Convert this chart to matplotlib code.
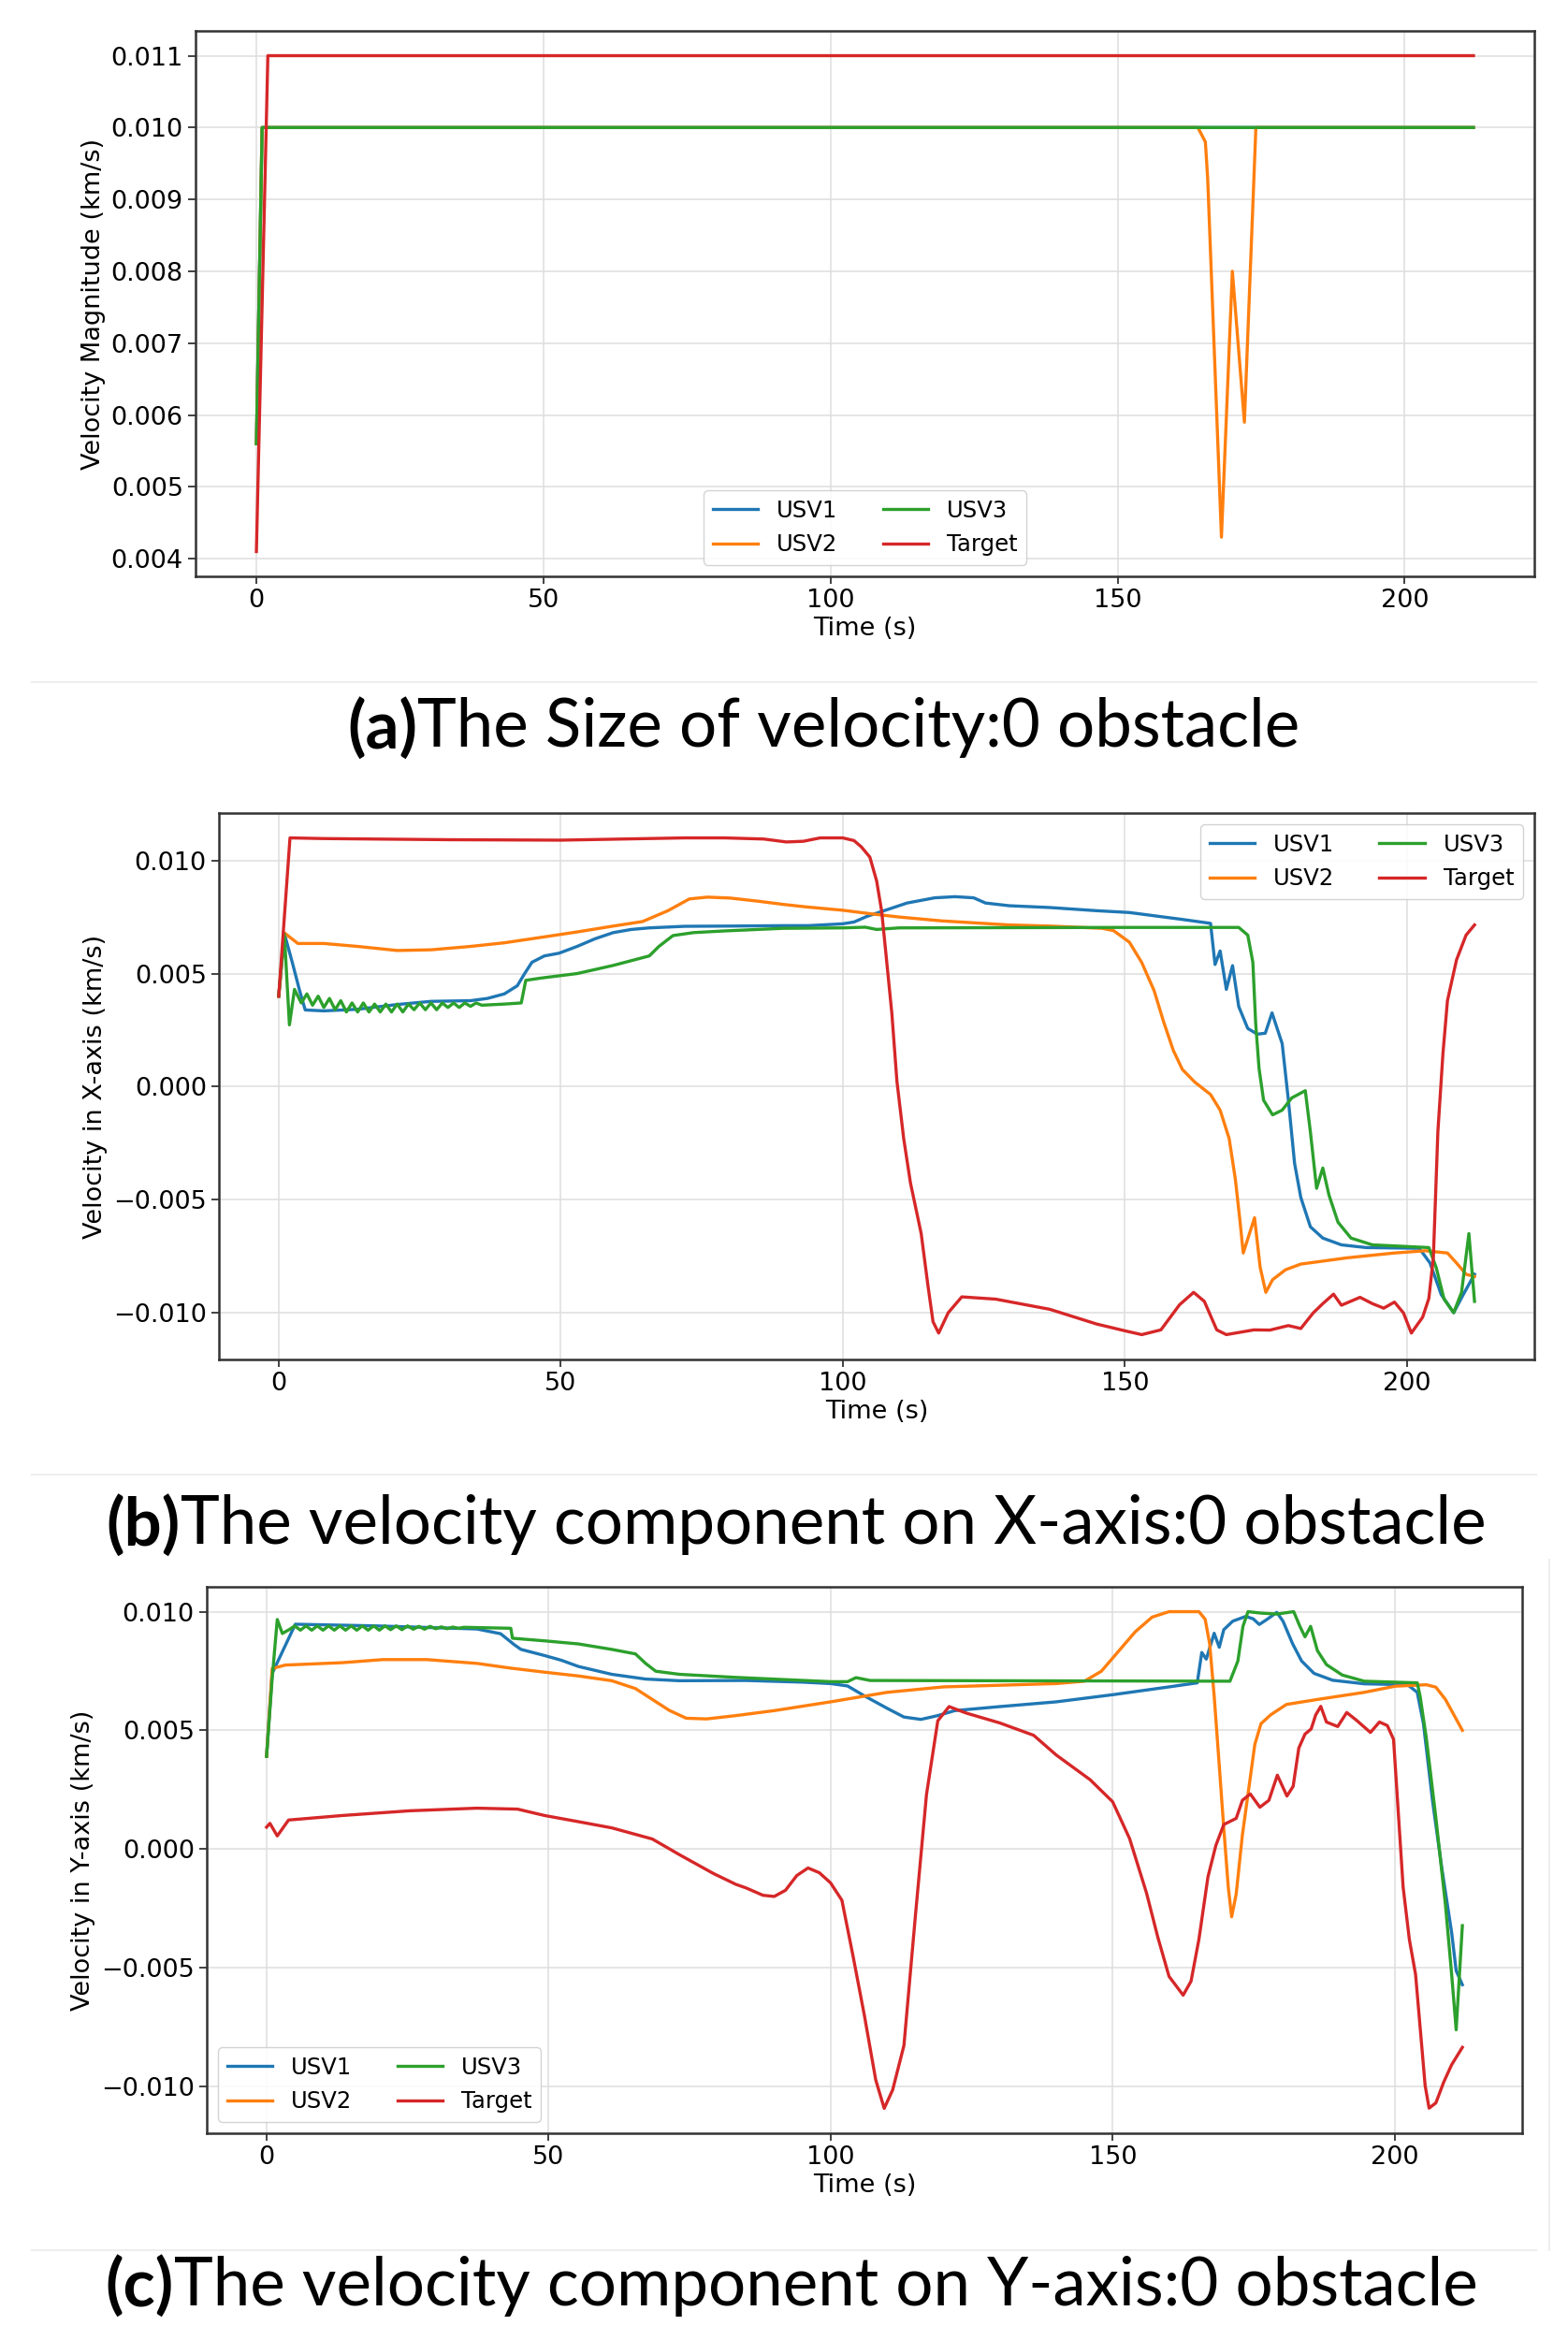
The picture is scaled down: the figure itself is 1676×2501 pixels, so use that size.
import matplotlib
matplotlib.use("Agg")
import matplotlib.pyplot as plt
from matplotlib.lines import Line2D

# ---------------- data: (a) velocity magnitude ----------------
mag_usv1_t = [0, 1, 212]
mag_usv1_v = [0.0056, 0.0100, 0.0100]
mag_usv2_t = [0, 1, 164, 165.3, 165.7, 168.1, 170.0, 172.1, 174.1, 212]
mag_usv2_v = [0.0056, 0.0100, 0.0100, 0.0098, 0.0093, 0.0043, 0.0080, 0.0059, 0.0100, 0.0100]
mag_usv3_t = [0, 1, 212]
mag_usv3_v = [0.0056, 0.0100, 0.0100]
mag_tgt_t = [0, 2, 212]
mag_tgt_v = [0.0041, 0.0110, 0.0110]

# ---------------- data: (b) x-component ----------------
vx_usv1_t = [0, 1, 2.4, 3.7, 4.7, 8, 14, 21, 27, 34, 37, 40, 42.3, 43.6, 44.9, 47.1, 49.7,
             52.9, 56.1, 59.3, 62.5, 65.7, 72, 80, 90, 94, 100, 102, 104.2, 107.8, 111.4,
             116.3, 119.9, 123.2, 125.3, 129.5, 136.7, 145, 150.8, 160, 165.2, 166.0, 166.9,
             168.0, 169.1, 170.2, 171.8, 173.5, 174.9, 176.1, 177.9, 179.0, 180.1, 181.2,
             182.9, 185.1, 188.4, 192.8, 202.2, 204.1, 206.1, 208.3, 210.0, 212]
vx_usv1_v = [0.0040, 0.00677, 0.0055, 0.00425, 0.00339, 0.00335, 0.00342, 0.00363, 0.00377,
             0.0038, 0.0039, 0.0041, 0.00446, 0.0050, 0.0055, 0.00578, 0.0059, 0.0062, 0.00654,
             0.00681, 0.00695, 0.00702, 0.00709, 0.0071, 0.00712, 0.00712, 0.0072, 0.00728,
             0.00752, 0.00782, 0.00812, 0.00835, 0.00840, 0.00835, 0.00812, 0.00800, 0.00792,
             0.00778, 0.0077, 0.00740, 0.00722, 0.0054, 0.0060, 0.0043, 0.00535, 0.00354,
             0.00257, 0.00232, 0.00236, 0.00326, 0.0019, -0.0006, -0.0034, -0.0049, -0.0062,
             -0.0067, -0.0070, -0.00712, -0.00715, -0.0078, -0.0092, -0.0100, -0.0092, -0.0083]

vx_usv2_t = [0, 1, 1.5, 3.4, 8, 14, 21, 27, 34, 40, 46.5, 52.9, 59.3, 64.5, 69, 72.8, 76, 80,
             85, 89.4, 93.4, 100, 105.4, 110, 117.5, 129.5, 136.7, 146, 148, 150.8, 153, 155.2,
             156.9, 158.6, 160.2, 162.4, 165.2, 166.9, 168.5, 169.6, 170.4, 171.0, 173.0,
             174.0, 175.0, 176.2, 178.5, 181.2, 189.5, 197.8, 203.3, 207.2, 208.8, 210.5, 212]
vx_usv2_v = [0.0040, 0.0068, 0.0067, 0.00633, 0.00633, 0.0062, 0.00602, 0.00605, 0.0062,
             0.00636, 0.0066, 0.00684, 0.0071, 0.0073, 0.00778, 0.0083, 0.00838, 0.00834,
             0.0082, 0.00806, 0.00795, 0.0078, 0.00763, 0.0075, 0.00733, 0.00715, 0.0071,
             0.00700, 0.0069, 0.00639, 0.00549, 0.00424, 0.00285, 0.0016, 0.00076, 0.0002,
             -0.00035, -0.00104, -0.0023, -0.0041, -0.0059, -0.00736, -0.0058, -0.0080,
             -0.0091, -0.00854, -0.0081, -0.00785, -0.00757, -0.00736, -0.00726, -0.00736,
             -0.0078, -0.0083, -0.0084]

vx_usv3_t = [0, 1, 1.9, 2.8, 4, 5, 6, 7, 8, 9, 10, 11, 12, 13, 14, 15, 16, 17, 18, 19, 20,
             21, 22, 23, 24, 25, 26, 27, 28, 29, 30, 31, 32, 33, 34, 35, 36, 40, 43, 43.8,
             46.5, 52.9, 59.3, 65.7, 67.4, 69.9, 73.5, 78.6, 89.4, 100, 104, 106, 110, 150,
             170.2, 171.8, 172.7, 173.2, 173.8, 174.6, 176.2, 177.9, 179.6, 182.0, 182.9,
             184.0, 185.1, 186.2, 187.8, 190.1, 193.9, 203.9, 205.2, 206.6, 208.3, 209.7,
             211.0, 212]
vx_usv3_v = [0.0040, 0.00675, 0.00273, 0.0043, 0.0037, 0.0041, 0.0036, 0.0040, 0.0035,
             0.0039, 0.0034, 0.0038, 0.0033, 0.0037, 0.0033, 0.0037, 0.0033, 0.00365, 0.0033,
             0.00365, 0.0033, 0.00365, 0.0033, 0.00365, 0.0034, 0.0037, 0.0034, 0.0037,
             0.0034, 0.0037, 0.0035, 0.0037, 0.0035, 0.0037, 0.00355, 0.0037, 0.0036,
             0.00365, 0.0037, 0.0047, 0.0048, 0.0050, 0.00536, 0.00578, 0.0062, 0.00668,
             0.00681, 0.00688, 0.00700, 0.00702, 0.00705, 0.00695, 0.00702, 0.00704, 0.00704,
             0.0067, 0.0055, 0.0028, 0.0008, -0.0006, -0.00125, -0.00104, -0.0005, -0.00018,
             -0.0020, -0.0045, -0.0036, -0.0048, -0.0060, -0.0067, -0.0070, -0.00712, -0.0080,
             -0.0094, -0.0100, -0.0091, -0.0065, -0.0095]

vx_tgt_t = [0, 2, 8, 30, 50, 72, 79, 86, 90, 93, 96, 100, 102, 103.3, 104.8, 106.0, 106.9,
            107.8, 108.7, 109.6, 110.8, 112.0, 113.9, 115.1, 116.0, 117.0, 118.7, 121.1,
            127.1, 136.7, 145, 150, 153, 156.4, 159.7, 162.2, 164.1, 166.3, 168.0, 172.9,
            175.7, 179.0, 181.2, 183.4, 185.1, 187.0, 188.4, 191.7, 193.9, 195.9, 197.8,
            199.4, 200.8, 202.8, 203.9, 204.7, 205.5, 206.4, 207.2, 208.8, 210.5, 212]
vx_tgt_v = [0.0040, 0.0110, 0.01097, 0.01092, 0.0109, 0.0110, 0.0110, 0.01095, 0.01082,
            0.01085, 0.0110, 0.0110, 0.01088, 0.0106, 0.01015, 0.0091, 0.00775, 0.0055,
            0.00324, 0.00024, -0.0023, -0.00426, -0.0065, -0.0088, -0.0104, -0.0109, -0.0100,
            -0.0093, -0.0094, -0.00985, -0.0105, -0.0108, -0.01097, -0.01076, -0.00965,
            -0.0091, -0.0095, -0.01076, -0.01097, -0.01076, -0.01077, -0.01057, -0.0107,
            -0.01001, -0.0096, -0.00918, -0.00967, -0.00932, -0.0096, -0.0098, -0.00953,
            -0.01001, -0.0109, -0.0102, -0.00937, -0.00757, -0.0020, 0.00146, 0.0038, 0.0056,
            0.0067, 0.00715]

# ---------------- data: (c) y-component ----------------
vy_usv1_t = [0, 1, 5.1, 19.4, 37.3, 41.5, 43.9, 45.1, 49.3, 52.3, 55.3, 61.2, 67.2, 73.2, 85,
             95, 100, 103, 106, 110, 113, 116, 119, 122, 130, 140, 150, 160, 165.0, 165.8,
             166.6, 168.0, 168.9, 169.7, 171.3, 173.6, 174.9, 176.0, 177.4, 179.1, 180.2,
             181.9, 183.5, 185.7, 189.0, 194.6, 202.3, 204.0, 205.1, 206.7, 208.4, 210.1,
             210.9, 212]
vy_usv1_v = [0.0039, 0.0074, 0.00947, 0.0094, 0.00927, 0.00907, 0.00861, 0.00841, 0.00815,
             0.00795, 0.00769, 0.00736, 0.00716, 0.00709, 0.00710, 0.00703, 0.00697, 0.00687,
             0.00645, 0.00593, 0.00556, 0.00546, 0.00562, 0.00583, 0.0060, 0.0062, 0.0065,
             0.00683, 0.0070, 0.00828, 0.0080, 0.00909, 0.0085, 0.00924, 0.0096, 0.0098,
             0.0097, 0.00946, 0.00968, 0.00997, 0.0096, 0.00865, 0.00792, 0.0074, 0.00711,
             0.00696, 0.00692, 0.0066, 0.00528, 0.00205, -0.00088, -0.00352, -0.00513, -0.00572]

vy_usv2_t = [0, 1, 3.3, 13.4, 20.6, 28.4, 37.3, 43.3, 49.3, 55.3, 61.2, 65.4, 68.4, 71.4,
             74.4, 78, 83.2, 90, 100, 110, 120, 130, 140, 145, 148, 151, 154, 157, 160, 165.3,
             166.4, 167.2, 168.0, 168.9, 169.7, 170.5, 171.1, 171.9, 173.0, 174.1, 175.2,
             176.3, 178.0, 180.8, 186.3, 194.6, 200.1, 205.6, 207.3, 209.0, 212]
vy_usv2_v = [0.0039, 0.0076, 0.00775, 0.00785, 0.00798, 0.00798, 0.00782, 0.00762, 0.00745,
             0.00729, 0.00709, 0.00676, 0.0063, 0.00584, 0.00551, 0.00548, 0.00562, 0.00583,
             0.0062, 0.0066, 0.00683, 0.0069, 0.00697, 0.00707, 0.00749, 0.00832, 0.00915,
             0.00977, 0.0100, 0.0100, 0.00968, 0.00865, 0.00645, 0.00352, 0.00088, -0.00161,
             -0.00286, -0.0019, 0.00059, 0.00249, 0.0044, 0.00528, 0.00565, 0.00609, 0.0063,
             0.0066, 0.00686, 0.00692, 0.00682, 0.0063, 0.0050]

vy_usv3_t = [0, 1, 1.9, 2.8, 4.2, 5, 6, 7, 8, 9, 10, 11, 12, 13, 14, 15, 16, 17, 18, 19, 20,
             21, 22, 23, 24, 25, 26, 27, 28, 29, 30, 31, 32, 33, 34, 35, 43.3, 43.6, 49.3,
             55.3, 61.2, 65.4, 67.2, 69.0, 73.2, 83.2, 100, 103, 104.5, 107, 170.8, 172.2,
             173.1, 174.0, 176.3, 179.1, 182.1, 183.2, 184.1, 185.1, 186.3, 187.9, 190.7,
             194.6, 204.0, 204.5, 205.6, 207.3, 209.0, 210.1, 210.9, 212]
vy_usv3_v = [0.0039, 0.0072, 0.00967, 0.00908, 0.00927, 0.0094, 0.00922, 0.0094, 0.00922,
             0.0094, 0.00922, 0.0094, 0.00922, 0.0094, 0.00922, 0.0094, 0.00922, 0.0094,
             0.00922, 0.0094, 0.00922, 0.0094, 0.00924, 0.0094, 0.00924, 0.0094, 0.00926,
             0.00938, 0.00926, 0.00938, 0.00928, 0.00936, 0.00928, 0.00935, 0.0093, 0.00934,
             0.0093, 0.00888, 0.00877, 0.00864, 0.00841, 0.00822, 0.00782, 0.00749, 0.00736,
             0.00723, 0.00705, 0.00705, 0.00722, 0.0071, 0.00707, 0.00792, 0.00938, 0.0100,
             0.00994, 0.0099, 0.0100, 0.00938, 0.00894, 0.00938, 0.00836, 0.00777, 0.00733,
             0.00707, 0.0070, 0.00645, 0.00469, 0.00132, -0.00235, -0.00528, -0.00762, -0.00323]

vy_tgt_t = [0, 0.6, 1.9, 3.9, 13.4, 25.4, 37.3, 44.5, 49.3, 55.3, 61.2, 68.4, 73.2, 79.2,
            83.2, 85, 88, 90, 92, 94, 96, 98, 100, 102, 104, 106, 108, 109.5, 111, 113, 115,
            117, 119, 121, 124, 130, 136, 140, 146, 150, 153, 156, 158, 160, 162.5, 163.9,
            165.3, 166.9, 168.3, 169.7, 171.9, 173.0, 174.4, 176.1, 177.7, 179.2, 180.9,
            182.0, 183.0, 184.1, 185.2, 186.0, 186.9, 187.9, 189.9, 191.5, 193.2, 195.7,
            197.3, 198.7, 199.8, 200.7, 201.5, 202.6, 203.7, 204.5, 205.4, 206.1, 207.3,
            208.7, 210.1, 212]
vy_tgt_v = [0.00092, 0.00108, 0.00055, 0.00122, 0.00141, 0.00161, 0.00172, 0.00168, 0.00141,
            0.00115, 0.00089, 0.00042, -0.00024, -0.00103, -0.00149, -0.00164, -0.00195,
            -0.0020, -0.00174, -0.00112, -0.0008, -0.0010, -0.00143, -0.00216, -0.00454,
            -0.00703, -0.00973, -0.01093, -0.01015, -0.00828, -0.0029, 0.0023, 0.0054, 0.0060,
            0.00573, 0.00531, 0.00479, 0.00396, 0.00292, 0.00199, 0.00044, -0.00185, -0.00371,
            -0.00537, -0.00616, -0.00557, -0.0038, -0.00117, 0.00015, 0.00103, 0.00129,
            0.00205, 0.00232, 0.00176, 0.00205, 0.00311, 0.00223, 0.00264, 0.00425, 0.00484,
            0.00506, 0.00565, 0.00601, 0.00535, 0.00516, 0.00575, 0.00543, 0.00491, 0.00535,
            0.0052, 0.00462, 0.00132, -0.00161, -0.00381, -0.00528, -0.00748, -0.00997,
            -0.01092, -0.0107, -0.00982, -0.00909, -0.00836]

series_names = ["USV1", "USV2", "USV3", "Target"]
colors = ["#1f77b4", "#ff7f0e", "#2ca02c", "#d62728"]
ylabels = ["Velocity Magnitude (km/s)", "Velocity in X-axis (km/s)", "Velocity in Y-axis (km/s)"]
xlabel = "Time (s)"
caption_tags = ["(a)", "(b)", "(c)"]
caption_texts = ["The Size of velocity:0 obstacle",
                 "The velocity component on X-axis:0 obstacle",
                 "The velocity component on Y-axis:0 obstacle"]

panels = [
    [(mag_usv1_t, mag_usv1_v), (mag_usv2_t, mag_usv2_v), (mag_usv3_t, mag_usv3_v), (mag_tgt_t, mag_tgt_v)],
    [(vx_usv1_t, vx_usv1_v), (vx_usv2_t, vx_usv2_v), (vx_usv3_t, vx_usv3_v), (vx_tgt_t, vx_tgt_v)],
    [(vy_usv1_t, vy_usv1_v), (vy_usv2_t, vy_usv2_v), (vy_usv3_t, vy_usv3_v), (vy_tgt_t, vy_tgt_v)],
]
legend_locs = ["lower center", "upper right", "lower left"]

W, H = 1676, 2501
fig = plt.figure(figsize=(W / 100, H / 100), dpi=100)

# axes boxes in pixels: left, right, top, bottom
boxes = [(209, 1640, 33, 616), (234, 1640, 869, 1453), (221, 1627, 1696, 2280)]
caption_pos = [(880, 778), (851, 1630), (846, 2443)]

for i, (l, r, t, b) in enumerate(boxes):
    ax = fig.add_axes([l / W, 1 - b / H, (r - l) / W, (b - t) / H])
    for (tt, vv), name, c in zip(panels[i], series_names, colors):
        ax.plot(tt, vv, color=c, lw=2.4, label=name)
    ax.grid(True, color="#dedede", lw=1.1)
    ax.set_axisbelow(True)
    for s in ax.spines.values():
        s.set_linewidth(1.8)
        s.set_color("#333333")
    ax.tick_params(labelsize=19.5, length=6, width=1.3, color="#333333")
    ax.set_xticks([0, 50, 100, 150, 200])
    ax.set_xlabel(xlabel, fontsize=19.5, labelpad=3)
    ax.set_ylabel(ylabels[i], fontsize=19.5)
    ax.legend(loc=legend_locs[i], ncol=2, fontsize=17.5, framealpha=0.85,
              columnspacing=2.0, handlelength=2.0)

# captions with bold tag followed by regular text
renderer = fig.canvas.get_renderer()
for (tag, txt), (cx, cy) in zip(zip(caption_tags, caption_texts), caption_pos):
    t1 = fig.text(0, 1 - cy / H, tag, fontsize=51, fontweight="bold", family="Lato",
                  va="center", ha="left")
    t2 = fig.text(0, 1 - cy / H, txt, fontsize=51, family="Lato", va="center", ha="left")
    w1 = t1.get_window_extent(renderer).width
    w2 = t2.get_window_extent(renderer).width
    x0 = cx - (w1 + w2) / 2
    t1.set_x(x0 / W)
    t2.set_x((x0 + w1) / W)

# faint separators from the composed original
for yy in [729, 1576, 2405]:
    fig.add_artist(Line2D([0.02, 0.98], [1 - yy / H, 1 - yy / H], transform=fig.transFigure,
                          color="#eeeeee", lw=1.5))
fig.add_artist(Line2D([1656 / W, 1656 / W], [1 - 1667 / H, 1 - 2405 / H], transform=fig.transFigure,
                      color="#eeeeee", lw=1.5))

fig.savefig("out.png", dpi=100)
